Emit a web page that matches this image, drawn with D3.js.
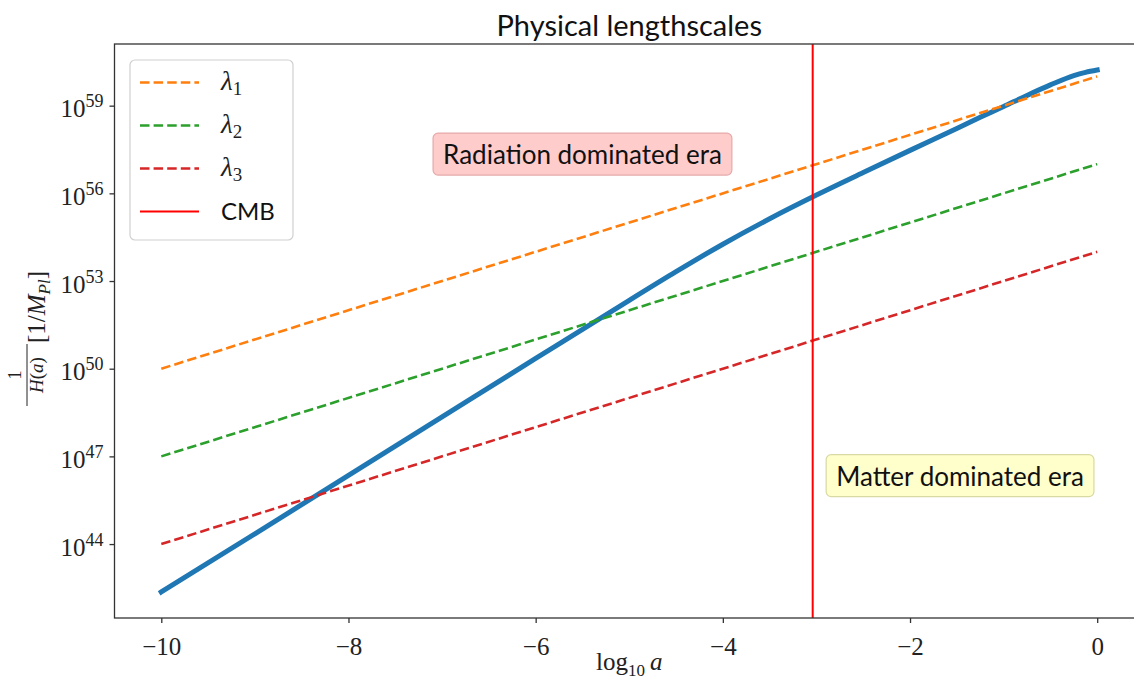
<!DOCTYPE html>
<html>
<head>
<meta charset="utf-8">
<script src="https://cdn.jsdelivr.net/npm/d3@7"></script>
<style>
  body { margin: 0; background: #fff; }
  svg { display: block; }
</style>
</head>
<body>
<svg id="chart" width="1134" height="683"></svg>
<script>
// data (exponents are log10 of 1/H in 1/M_Pl)
var logA = [-10, -9, -8, -7, -6, -5, -4.5, -4, -3.5, -3, -2.5, -2, -1.5, -1.25, -1, -0.75, -0.5, -0.25, -0.125, 0];
var invHExp = [42.36, 44.35, 46.35, 48.35, 50.35, 52.34, 53.32, 54.26, 55.13, 55.94, 56.71, 57.47, 58.22, 58.6, 58.97, 59.35, 59.71, 60.03, 60.14, 60.22];

var lambdaNames = ['1', '2', '3'];
var lambdaStartExp = [50, 47, 44];   // at log10 a = -10
var lambdaEndExp = [60, 57, 54];     // at log10 a = 0
var lambdaColors = ['#ff7f0e', '#2ca02c', '#d62728'];

var cmbLogA = -3.04;

var xTicks = [-10, -8, -6, -4, -2, 0];
var yTickExps = [44, 47, 50, 53, 56, 59];

var notes = ['Radiation dominated era', 'Matter dominated era'];
var noteLogA = [-7, -2.8];
var noteExp = [57, 46];
var noteFill = ['#ffcccc', '#ffffcc'];
var noteStroke = ['#e6a9a9', '#d9d9a3'];

var serif = '"Liberation Serif", "DejaVu Serif", serif';
var sans = 'Lato, "Open Sans", sans-serif';

var svg = d3.select('#chart');

var mL = 114.5, mR = 1144, mT = 44, mB = 618;

var x = d3.scaleLinear()
    .domain([-10.5, 0.5])
    .range([mL, mR]);

var y = d3.scaleLog()
    .domain([Math.pow(10, 41.47), Math.pow(10, 61.11)])
    .range([mB, mT]);

svg.append('defs').append('clipPath')
    .attr('id', 'plot')
    .append('rect')
    .attr('x', mL).attr('y', mT)
    .attr('width', mR - mL).attr('height', mB - mT);

var plot = svg.append('g').attr('clip-path', 'url(#plot)');

// 1/H(a)
var curve = logA.map(function (a, i) { return [a, Math.pow(10, invHExp[i])]; });
plot.append('path')
    .datum(curve)
    .attr('fill', 'none')
    .attr('stroke', '#1f77b4')
    .attr('stroke-width', 5)
    .attr('stroke-linecap', 'square')
    .attr('d', d3.line()
        .x(function (d) { return x(d[0]); })
        .y(function (d) { return y(d[1]); })
        .curve(d3.curveMonotoneX));

// lambda lines
lambdaNames.forEach(function (n, i) {
    plot.append('line')
        .attr('x1', x(-10)).attr('y1', y(Math.pow(10, lambdaStartExp[i])))
        .attr('x2', x(0)).attr('y2', y(Math.pow(10, lambdaEndExp[i])))
        .attr('stroke', lambdaColors[i])
        .attr('stroke-width', 2.6)
        .attr('stroke-dasharray', '9.5,4.1');
});

// CMB
plot.append('line')
    .attr('x1', x(cmbLogA)).attr('x2', x(cmbLogA))
    .attr('y1', mT).attr('y2', mB)
    .attr('stroke', '#ff0000')
    .attr('stroke-width', 2);

// annotations
notes.forEach(function (t, i) {
    var g = svg.append('g');
    var box = g.append('rect');
    var txt = g.append('text')
        .attr('x', x(noteLogA[i]) + 1)
        .attr('y', y(Math.pow(10, noteExp[i])))
        .attr('font-family', sans)
        .attr('font-size', 26)
        .attr('fill', '#111')
        .text(t);
    var b = txt.node().getBBox();
    box.attr('x', b.x - 10).attr('y', b.y - 5)
        .attr('width', b.width + 20).attr('height', b.height + 10)
        .attr('rx', 5)
        .attr('fill', noteFill[i])
        .attr('stroke', noteStroke[i])
        .attr('stroke-width', 1.2);
});

// axes
function styleAxis(g) {
    g.select('.domain').remove();
    g.selectAll('.tick line').attr('stroke', '#333').attr('stroke-width', 1.3);
    g.selectAll('.tick text')
        .attr('font-family', serif)
        .attr('font-size', 25)
        .attr('fill', '#222');
}

svg.append('g')
    .attr('transform', 'translate(0,' + mB + ')')
    .call(d3.axisBottom(x).tickValues(xTicks).tickSize(5).tickPadding(14))
    .call(styleAxis);

var yAxis = svg.append('g')
    .attr('transform', 'translate(' + mL + ',0)')
    .call(d3.axisLeft(y)
        .tickValues(yTickExps.map(function (e) { return Math.pow(10, e); }))
        .tickSize(5).tickPadding(6)
        .tickFormat(function () { return ''; }))
    .call(styleAxis);

yAxis.selectAll('.tick text')
    .attr('dy', '11px')
    .each(function (d, i) {
        var t = d3.select(this);
        t.append('tspan').text('10');
        t.append('tspan').attr('dy', -10).attr('font-size', 18).text(yTickExps[i]);
    });

// frame
svg.append('rect')
    .attr('x', mL).attr('y', mT)
    .attr('width', mR - mL).attr('height', mB - mT)
    .attr('fill', 'none')
    .attr('stroke', '#333')
    .attr('stroke-width', 1.3);

// title
svg.append('text')
    .attr('x', (mL + mR) / 2)
    .attr('y', 36)
    .attr('text-anchor', 'middle')
    .attr('font-family', sans)
    .attr('font-size', 29)
    .attr('fill', '#111')
    .text('Physical lengthscales');

// x label
var xl = svg.append('text')
    .attr('x', (mL + mR) / 2)
    .attr('y', 670)
    .attr('text-anchor', 'middle')
    .attr('font-family', serif)
    .attr('font-size', 25)
    .attr('fill', '#222');
xl.append('tspan').text('log');
xl.append('tspan').attr('font-size', 17).attr('dy', 6).text('10');
xl.append('tspan').attr('dy', -6).attr('dx', 5).attr('font-style', 'italic').text('a');

// y label
var yl = svg.append('g')
    .attr('transform', 'translate(45,331) rotate(-90)')
    .attr('font-family', serif)
    .attr('fill', '#222');
yl.append('text')
    .attr('x', -44).attr('y', -24)
    .attr('text-anchor', 'middle')
    .attr('font-size', 19)
    .text('1');
yl.append('line')
    .attr('x1', -75).attr('x2', -13)
    .attr('y1', -18).attr('y2', -18)
    .attr('stroke', '#222').attr('stroke-width', 1);
var den = yl.append('text')
    .attr('x', -44).attr('y', -2)
    .attr('text-anchor', 'middle')
    .attr('font-size', 19);
den.append('tspan').attr('font-style', 'italic').text('H');
den.append('tspan').text('(');
den.append('tspan').attr('font-style', 'italic').text('a');
den.append('tspan').text(')');
var unit = yl.append('text')
    .attr('x', -12).attr('y', 0)
    .attr('font-size', 25);
unit.append('tspan').text('[1/');
unit.append('tspan').attr('font-style', 'italic').text('M');
unit.append('tspan').attr('font-style', 'italic').attr('font-size', 17).attr('dy', 5).text('Pl');
unit.append('tspan').attr('dy', -5).text(']');

// legend
var legend = svg.append('g');
legend.append('rect')
    .attr('x', 130).attr('y', 60)
    .attr('width', 163).attr('height', 180)
    .attr('rx', 5)
    .attr('fill', '#fff').attr('fill-opacity', 0.8)
    .attr('stroke', '#d0d0d0').attr('stroke-width', 1.2);

var rowY = d3.scalePoint().domain(d3.range(4)).range([82.5, 211.5]);

lambdaNames.forEach(function (n, i) {
    legend.append('line')
        .attr('x1', 140).attr('x2', 199)
        .attr('y1', rowY(i)).attr('y2', rowY(i))
        .attr('stroke', lambdaColors[i])
        .attr('stroke-width', 2.6)
        .attr('stroke-dasharray', '9.5,4.1');
    var t = legend.append('text')
        .attr('x', 221).attr('y', rowY(i) + 7)
        .attr('font-family', serif)
        .attr('font-size', 27)
        .attr('fill', '#222');
    t.append('tspan').attr('font-style', 'italic').text('λ');
    t.append('tspan').attr('font-size', 19).attr('dy', 5).text(n);
});

legend.append('line')
    .attr('x1', 140).attr('x2', 199)
    .attr('y1', rowY(3)).attr('y2', rowY(3))
    .attr('stroke', '#ff0000')
    .attr('stroke-width', 2);
legend.append('text')
    .attr('x', 221).attr('y', rowY(3) + 8)
    .attr('font-family', sans)
    .attr('font-size', 24)
    .attr('fill', '#111')
    .text('CMB');
</script>
</body>
</html>
